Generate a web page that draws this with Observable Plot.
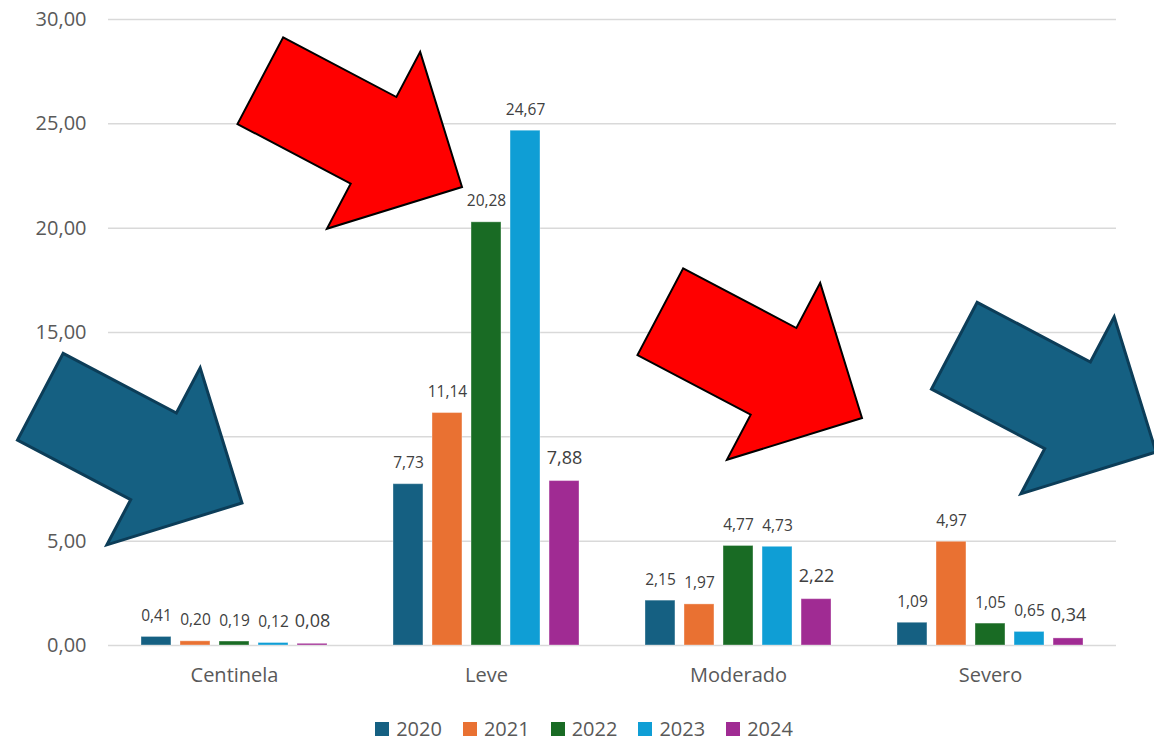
<!DOCTYPE html>
<html>
<head>
<meta charset="utf-8">
<script src="https://cdn.jsdelivr.net/npm/d3@7"></script>
<script src="https://cdn.jsdelivr.net/npm/@observablehq/plot@0.6"></script>
<style>
  html, body { margin: 0; padding: 0; background: #ffffff; }
  body { width: 1154px; font-family: "Open Sans", sans-serif; }
  #legend { display: flex; justify-content: center; align-items: center; gap: 21px; margin-top: 15px; padding-left: 14px; font-size: 20px; color: #595959; }
  #legend .item { display: flex; align-items: center; gap: 7px; }
  #legend .sw { width: 14px; height: 14px; display: inline-block; }
</style>
</head>
<body>
<div id="chart"></div>
<div id="legend"></div>
<script>
// ---- data ----
const categories = ["Centinela", "Leve", "Moderado", "Severo"];
const years = ["2020", "2021", "2022", "2023", "2024"];
const v2020 = [0.41, 7.73, 2.15, 1.09];
const v2021 = [0.20, 11.14, 1.97, 4.97];
const v2022 = [0.19, 20.28, 4.77, 1.05];
const v2023 = [0.12, 24.67, 4.73, 0.65];
const v2024 = [0.08, 7.88, 2.22, 0.34];
const yTicks = [0, 5, 10, 15, 20, 25, 30];
const colors = ["#156082", "#E97132", "#196B24", "#0F9ED5", "#A02B93"];

// decorative block arrows (tip position in pixels)
const arrows = [
  {tipX: 242, tipY: 503, fill: "#156082", stroke: "#0C3D58", sw: 3},
  {tipX: 462, tipY: 187, fill: "#FF0000", stroke: "#000000", sw: 2},
  {tipX: 862, tipY: 418, fill: "#FF0000", stroke: "#000000", sw: 2},
  {tipX: 1156, tipY: 452, fill: "#156082", stroke: "#0C3D58", sw: 3}
];

const series = [v2020, v2021, v2022, v2023, v2024];
const locale = d3.formatLocale({decimal: ",", thousands: ".", grouping: [3], currency: ["", "€"]});
const fmt = locale.format(".2f");

// layout
const W = 1154, H = 700, mL = 108, mR = 38, mT = 19, mB = 55;
const pIn = 0.26, pOut = 0.13;
const step = (W - mL - mR) / (categories.length - pIn + 2 * pOut);
const bw = step * (1 - pIn);
const yPad = 0.22;
const ys = bw / (years.length - yPad);
const barW = ys * (1 - yPad);

const marks = [
  Plot.gridY(yTicks, {stroke: "#D9D9D9", strokeOpacity: 1, strokeWidth: 1.5}),
  Plot.axisY(yTicks, {tickSize: 0, tickPadding: 22, tickFormat: fmt, fontSize: 20, fill: "#595959", label: null}),
  Plot.axisX({tickSize: 0, tickPadding: 22, fontSize: 20, fill: "#595959", label: null})
];
years.forEach((yr, j) => {
  const rows = categories.map((c, i) => ({cat: c, year: yr, value: series[j][i]}));
  const left = j * ys;
  const right = bw - left - barW;
  marks.push(Plot.barY(rows, {x: "cat", y: "value", fill: colors[j], insetLeft: left, insetRight: right,
    stroke: "#ffffff", strokeOpacity: 0.35, strokeWidth: 1}));
  const big = yr === "2024";
  marks.push(Plot.text(rows, {
    x: "cat", y: "value", text: d => fmt(d.value),
    dx: left + barW / 2 - bw / 2, dy: big ? -23 : -21,
    lineAnchor: "middle", fontSize: big ? 18 : 15.5, fill: "#404040"
  }));
});

const chart = Plot.plot({
  width: W, height: H,
  marginLeft: mL, marginRight: mR, marginTop: mT, marginBottom: mB,
  style: {fontFamily: "'Open Sans', sans-serif", background: "#ffffff"},
  x: {domain: categories, paddingInner: pIn, paddingOuter: pOut, label: null},
  y: {domain: [0, 30], label: null},
  marks
});
document.getElementById("chart").appendChild(chart);

// arrows overlay
const svg = d3.select(chart);
const theta = Math.atan2(106.5, 202);
const ux = Math.cos(theta), uy = Math.sin(theta), nx = -Math.sin(theta), ny = Math.cos(theta);
const shape = [[-228, -49], [-100, -49], [-100, -100], [0, 0], [-100, 100], [-100, 49], [-228, 49]];
arrows.forEach(a => {
  const pts = shape.map(([al, pe]) => [a.tipX + al * ux + pe * nx, a.tipY + al * uy + pe * ny]);
  svg.append("polygon")
    .attr("points", pts.map(p => p.join(",")).join(" "))
    .attr("fill", a.fill)
    .attr("stroke", a.stroke)
    .attr("stroke-width", a.sw)
    .attr("stroke-linejoin", "miter");
});

// legend
const legend = d3.select("#legend");
years.forEach((y, i) => {
  const it = legend.append("div").attr("class", "item");
  it.append("span").attr("class", "sw").style("background", colors[i]);
  it.append("span").text(y);
});
</script>
</body>
</html>
